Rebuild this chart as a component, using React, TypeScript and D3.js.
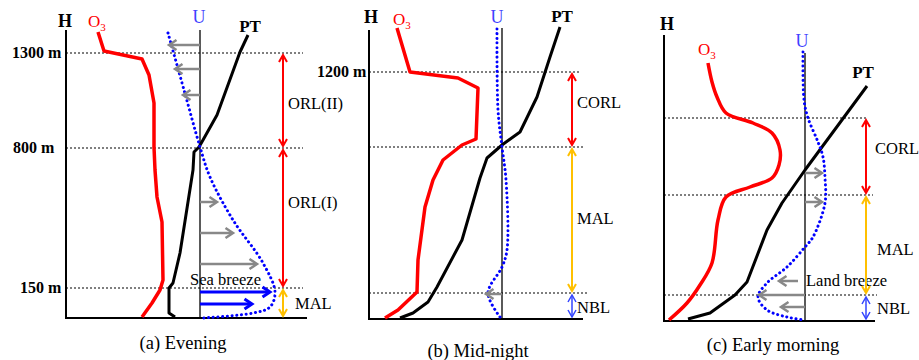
import React from 'react';
import * as d3 from 'd3';

type P = [number, number];

// ---------- DATA (schematic units: [x offset from H axis, height above ground]) ----------
// Panel (a) Evening
const evenO3: P[] = [[32,286],[38,267],[76,259],[83,243],[88,215],[88,171],[89,148],[91,121],[96,96],[97,38],[94,28],[86,15],[76,1]];
const evenPT: P[] = [[182,283],[174,266],[151,203],[137,178],[133,171],[128,166],[127,148],[114,65],[107,35],[103,30],[103,5],[109,1]];
const evenU: P[] = [[102,285],[118,228],[134,171],[144,141],[167,98],[197,55],[209,26],[204,11],[187,5],[136,0]];
const evenWind = [
  { h: 273, from: 134, to: 103 }, { h: 249, from: 134, to: 109 }, { h: 223, from: 134, to: 117 },
  { h: 116, from: 134, to: 151 }, { h: 85, from: 134, to: 167 }, { h: 54, from: 134, to: 191 },
];
const evenSeaBreeze = [{ h: 26, from: 134, to: 204 }, { h: 14, from: 134, to: 186 }];
const evenLevels = [265, 170, 30];
const evenLevelLabels = ['1300 m', '800 m', '150 m'];
const evenLayers = [
  { name: 'ORL(II)', top: 265, bottom: 170, kind: 'orl', labelH: 215 },
  { name: 'ORL(I)', top: 170, bottom: 30, kind: 'orl', labelH: 116 },
  { name: 'MAL', top: 30, bottom: 0, kind: 'mal', labelH: 15 },
];

// Panel (b) Mid-night
const nightO3: P[] = [[28,291],[41,247],[89,241],[109,231],[107,180],[93,174],[74,159],[64,139],[56,112],[49,59],[48,27],[29,9],[16,1]];
const nightPT: P[] = [[191,292],[181,262],[168,222],[151,187],[133,174],[118,161],[111,141],[93,79],[68,32],[59,17],[44,6],[31,1]];
const nightU: P[] = [[128,290],[129,209],[133,172],[137,139],[138,69],[133,52],[119,26],[131,2]];
const nightWind = [{ h: 25, from: 133, to: 117 }];
const nightLevels = [247, 172, 26];
const nightLevelLabels = ['1200 m', '', ''];
const nightLayers = [
  { name: 'CORL', top: 247, bottom: 172, kind: 'orl', labelH: 217 },
  { name: 'MAL', top: 172, bottom: 26, kind: 'mal', labelH: 101 },
  { name: 'NBL', top: 26, bottom: 0, kind: 'nbl', labelH: 12 },
];

// Panel (c) Early morning
const mornO3: P[] = [[44,258],[48,239],[53,224],[62,208],[89,198],[108,188],[116,171],[115,156],[108,143],[86,134],[62,124],[54,101],[48,58],[36,36],[23,18],[5,1]];
const mornPT: P[] = [[203,235],[141,151],[118,118],[103,91],[83,39],[71,26],[46,8],[24,2]];
const mornU: P[] = [[139,269],[140,221],[144,203],[154,179],[159,164],[161,143],[161,118],[149,84],[141,74],[123,54],[103,38],[94,24],[103,11],[123,4],[140,1]];
const mornWind = [
  { h: 148, from: 141, to: 158 }, { h: 119, from: 141, to: 158 },
  { h: 40, from: 134, to: 115 }, { h: 26, from: 141, to: 95 }, { h: 14, from: 141, to: 117 },
];
const mornLevels = [203, 126, 26];
const mornLevelLabels = ['', '', ''];
const mornLayers = [
  { name: 'CORL', top: 203, bottom: 126, kind: 'orl', labelH: 173 },
  { name: 'MAL', top: 126, bottom: 26, kind: 'mal', labelH: 72 },
  { name: 'NBL', top: 26, bottom: 0, kind: 'nbl', labelH: 13 },
];

// ---------- LAYOUT ----------
const FONT = '"Liberation Serif", "Times New Roman", serif';
const RED = '#ff0000';
const BLUE = '#0000ff';
const GRAY = '#888888';
const LAYER_COLORS: Record<string, string> = { orl: '#ff0000', mal: '#ffc000', nbl: '#3344ff' };

const panels = [
  {
    x0: 66, y0: 318, axisTop: 288, uX: 134, uTop: 288, dotEnd: [237, 237, 237], axisEnd: 241,
    rangeX: 217, labelX: [222, 222, 229], levelLabelX: [12, 13, 20],
    o3: evenO3, pt: evenPT, u: evenU, wind: evenWind, blueWind: evenSeaBreeze,
    levels: evenLevels, levelLabels: evenLevelLabels, layers: evenLayers,
    H: [65, 27], O3: [88, 27], U: [199, 23], PT: [250, 32],
    breeze: { text: 'Sea breeze', x: 124, h: 33 },
    caption: { text: '(a) Evening', x: 183, y: 349 }, smooth: false,
  },
  {
    x0: 369, y0: 319, axisTop: 289, uX: 133, uTop: 291, dotEnd: [211, 214, 219], axisEnd: 214,
    rangeX: 203, labelX: [208, 208, 208], levelLabelX: [-52, 0, 0],
    o3: nightO3, pt: nightPT, u: nightU, wind: nightWind, blueWind: [],
    levels: nightLevels, levelLabels: nightLevelLabels, layers: nightLayers,
    H: [371, 23], O3: [393, 25], U: [497, 23], PT: [562, 22],
    breeze: null,
    caption: { text: '(b) Mid-night', x: 478, y: 357 }, smooth: false,
  },
  {
    x0: 664, y0: 321, axisTop: 286, uX: 141, uTop: 268, dotEnd: [204, 209, 213], axisEnd: 211,
    rangeX: 202, labelX: [211, 213, 213], levelLabelX: [0, 0, 0],
    o3: mornO3, pt: mornPT, u: mornU, wind: mornWind, blueWind: [],
    levels: mornLevels, levelLabels: mornLevelLabels, layers: mornLayers,
    H: [667, 30], O3: [698, 55], U: [802, 47], PT: [863, 78],
    breeze: { text: 'Land breeze', x: 142, h: 35 },
    caption: { text: '(c) Early morning', x: 773, y: 351 }, smooth: true,
  },
];

function head(tx: number, ty: number, dx: number, dy: number, L: number, W: number) {
  const px = -dy, py = dx;
  return `M${tx - dx * L + px * W},${ty - dy * L + py * W}L${tx},${ty}L${tx - dx * L - px * W},${ty - dy * L - py * W}`;
}

function Panel({ p }: { p: any }) {
  const x = d3.scaleLinear().domain([0, 250]).range([p.x0, p.x0 + 250]);
  const y = d3.scaleLinear().domain([0, 300]).range([p.y0, p.y0 - 300]);
  const lin = d3.line<P>().x(d => x(d[0])).y(d => y(d[1]));
  const smooth = d3.line<P>().x(d => x(d[0])).y(d => y(d[1])).curve(d3.curveCatmullRom.alpha(0.5));
  const o3Gen = p.smooth ? smooth : lin;

  const windArrow = (w: any, color: string, sw: number, i: number) => {
    const yy = y(w.h);
    const x1 = x(w.from), x2 = x(w.to);
    const dir = Math.sign(x2 - x1);
    return (
      <g key={i} stroke={color} strokeWidth={sw} fill="none" strokeLinecap="butt">
        <line x1={x1} y1={yy} x2={x2 - dir * 1.5} y2={yy} />
        <path d={head(x2, yy, dir, 0, 7.5, 5)} strokeLinejoin="miter" />
      </g>
    );
  };

  return (
    <g>
      {p.levels.map((lv: number, i: number) => (
        <line key={'lv' + i} x1={x(0)} x2={x(p.dotEnd[i])} y1={y(lv)} y2={y(lv)}
          stroke="#000" strokeWidth={1.2} strokeDasharray="2 2" />
      ))}
      {p.levelLabels.map((t: string, i: number) => t ? (
        <text key={'ll' + i} x={p.levelLabelX[i] < 0 ? x(0) + p.levelLabelX[i] : p.levelLabelX[i]} y={y(p.levels[i]) + 5}
          fontFamily={FONT} fontWeight="bold" fontSize={16}>{t}</text>
      ) : null)}
      <line x1={x(0)} x2={x(0)} y1={y(p.axisTop)} y2={y(0) + 1} stroke="#000" strokeWidth={2} />
      <line x1={x(0) - 1} x2={x(p.axisEnd)} y1={y(0)} y2={y(0)} stroke="#000" strokeWidth={2} />
      <line x1={x(p.uX)} x2={x(p.uX)} y1={y(p.uTop)} y2={y(0)} stroke="#000" strokeWidth={1.3} />
      <path d={o3Gen(p.o3) || ''} fill="none" stroke={RED} strokeWidth={3.5} strokeLinejoin="round" />
      <path d={lin(p.pt) || ''} fill="none" stroke="#000" strokeWidth={3} strokeLinejoin="round" />
      <path d={smooth(p.u) || ''} fill="none" stroke={BLUE} strokeWidth={3} strokeDasharray="0.1 4.6" strokeLinecap="round" />
      {p.wind.map((w: any, i: number) => windArrow(w, GRAY, 2.5, i))}
      {p.blueWind.map((w: any, i: number) => windArrow(w, BLUE, 3, 100 + i))}
      {p.breeze && (
        <text x={x(p.breeze.x)} y={y(p.breeze.h)} fontFamily={FONT} fontSize={16.5} fill="#000">{p.breeze.text}</text>
      )}
      {p.layers.map((l: any, i: number) => {
        const c = LAYER_COLORS[l.kind];
        const sw = l.kind === 'nbl' ? 1.5 : 2;
        const yt = y(l.top) + 2, yb = y(l.bottom) - 2;
        const rx = x(p.rangeX);
        return (
          <g key={'ly' + i} stroke={c} strokeWidth={sw} fill="none">
            <line x1={rx} x2={rx} y1={yt + 1} y2={yb - 1} />
            <path d={head(rx, yt, 0, -1, 7, 4)} />
            <path d={head(rx, yb, 0, 1, 7, 4)} />
          </g>
        );
      })}
      {p.layers.map((l: any, i: number) => (
        <text key={'lt' + i} x={x(p.labelX[i])} y={y(l.labelH) + 5.5} fontFamily={FONT} fontSize={16.5}>{l.name}</text>
      ))}
      <text x={p.H[0]} y={p.H[1]} textAnchor="middle" fontFamily={FONT} fontWeight="bold" fontSize={18}>H</text>
      <text x={p.O3[0]} y={p.O3[1]} fontFamily={FONT} fontSize={17} fill={RED}>O<tspan fontSize={11} dy={4}>3</tspan></text>
      <text x={p.U[0]} y={p.U[1]} textAnchor="middle" fontFamily={FONT} fontSize={18} fill="#3f3fff">U</text>
      <text x={p.PT[0]} y={p.PT[1]} textAnchor="middle" fontFamily={FONT} fontWeight="bold" fontSize={17}>PT</text>
      <text x={p.caption.x} y={p.caption.y} textAnchor="middle" fontFamily={FONT} fontSize={18.5}>{p.caption.text}</text>
    </g>
  );
}

export default function App() {
  return (
    <div style={{ position: 'absolute', left: 0, top: 0 }}>
      <svg width={919} height={360} style={{ display: 'block', background: '#fff' }}>
        <rect width={919} height={360} fill="#fff" />
        {panels.map((p, i) => <Panel key={i} p={p} />)}
      </svg>
    </div>
  );
}
